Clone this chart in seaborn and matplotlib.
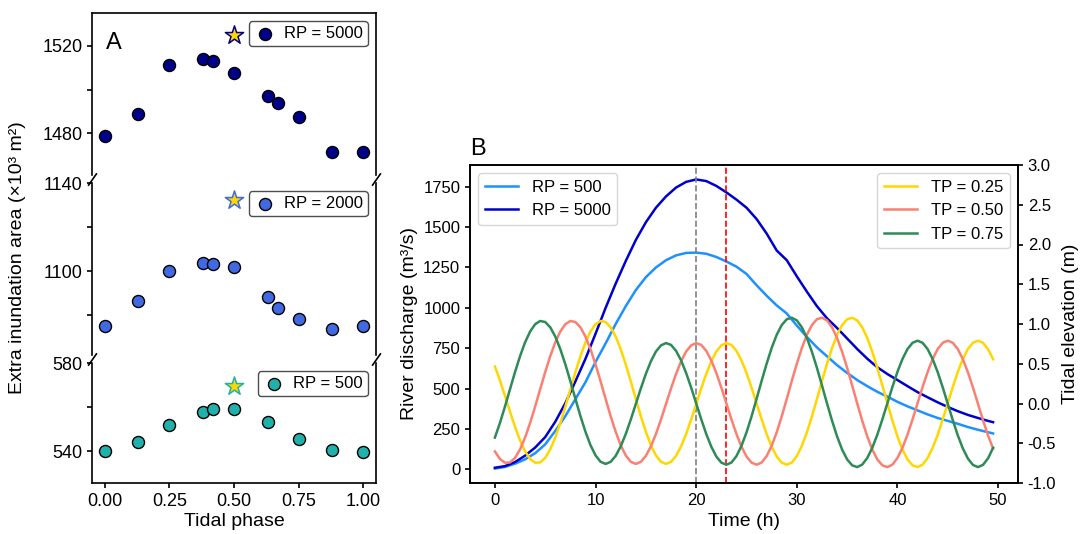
import matplotlib
matplotlib.use('Agg')
import matplotlib.pyplot as plt
import seaborn as sns
import numpy as np

plt.rcParams['font.family'] = ['Liberation Sans', 'DejaVu Sans']
plt.rcParams['axes.unicode_minus'] = False
plt.rcParams['axes.linewidth'] = 1.2
plt.rcParams['xtick.major.width'] = 1.2
plt.rcParams['ytick.major.width'] = 1.2
plt.rcParams['ytick.minor.width'] = 1.2
plt.rcParams['ytick.minor.size'] = 3.5

# ---- Panel A data: extra inundation area vs tidal phase ----
phase = [0.0, 0.13, 0.25, 0.38, 0.42, 0.5, 0.63, 0.67, 0.75, 0.88, 1.0]
area_rp5000 = [1479.0, 1489.0, 1511.3, 1514.1, 1512.9, 1507.8, 1497.3, 1494.0, 1487.5, 1471.7, 1471.4]
area_rp2000 = [1075.1, 1086.7, 1100.0, 1103.9, 1103.2, 1101.8, 1088.4, 1083.2, 1078.4, 1073.9, 1075.1]
phase_rp500 = [0.0, 0.13, 0.25, 0.38, 0.42, 0.5, 0.63, 0.75, 0.88, 1.0]
area_rp500 = [540.0, 544.1, 551.9, 557.6, 559.2, 558.9, 553.0, 545.5, 540.6, 539.7]
star_phase = 0.5
star_area = {'RP = 5000': 1524.8, 'RP = 2000': 1132.2, 'RP = 500': 569.7}

# ---- Panel B data: hourly river discharge ----
hours = list(range(50)) + [49.5]
q_rp500 = [5, 15, 35, 62, 100, 155, 238, 330, 435, 540,
           665, 780, 900, 1010, 1110, 1190, 1250, 1295, 1325, 1340,
           1342, 1335, 1315, 1287, 1255, 1210, 1140, 1075, 1015, 965,
           890, 820, 755, 700, 645, 597, 553, 515, 480, 450,
           418, 390, 365, 340, 318, 300, 282, 262, 245, 230, 222]
q_rp5000 = [10, 20, 45, 85, 135, 200, 295, 410, 545, 685,
            840, 1000, 1150, 1290, 1420, 1530, 1620, 1690, 1745, 1780,
            1795, 1785, 1755, 1715, 1670, 1620, 1550, 1460, 1355, 1295,
            1195, 1100, 1010, 935, 875, 810, 745, 685, 632, 590,
            553, 515, 478, 446, 415, 386, 360, 337, 318, 300, 292]

# ---- Panel B data: half-hourly tidal elevation ----
tide_hours = np.arange(0, 50, 0.5)
tide_tp025 = [0.465, 0.290, 0.097, -0.103, -0.294, -0.464, -0.603, -0.698, -0.745, -0.741,
              -0.684, -0.577, -0.428, -0.245, -0.038, 0.180, 0.396, 0.596, 0.770, 0.906,
              0.998, 1.038, 1.025, 0.958, 0.842, 0.683, 0.492, 0.279, 0.058, -0.159,
              -0.356, -0.525, -0.653, -0.733, -0.760, -0.734, -0.659, -0.539, -0.384, -0.202,
              -0.006, 0.190, 0.373, 0.531, 0.654, 0.731, 0.760, 0.737, 0.662, 0.542,
              0.384, 0.200, 0.001, -0.198, -0.384, -0.543, -0.667, -0.744, -0.770, -0.743,
              -0.662, -0.532, -0.363, -0.162, 0.058, 0.284, 0.501, 0.699, 0.864, 0.987,
              1.060, 1.079, 1.045, 0.958, 0.824, 0.650, 0.447, 0.226, 0.000, -0.217,
              -0.415, -0.580, -0.704, -0.778, -0.800, -0.768, -0.685, -0.556, -0.391, -0.199,
              0.005, 0.209, 0.399, 0.561, 0.686, 0.764, 0.790, 0.763, 0.683, 0.557]
tide_tp050 = [-0.603, -0.698, -0.745, -0.741, -0.684, -0.577, -0.428, -0.245, -0.038, 0.180,
              0.396, 0.596, 0.770, 0.906, 0.998, 1.038, 1.025, 0.958, 0.842, 0.683,
              0.492, 0.279, 0.058, -0.159, -0.356, -0.525, -0.653, -0.733, -0.760, -0.734,
              -0.659, -0.539, -0.384, -0.202, -0.006, 0.190, 0.373, 0.531, 0.654, 0.731,
              0.760, 0.737, 0.662, 0.542, 0.384, 0.200, 0.001, -0.198, -0.384, -0.543,
              -0.667, -0.744, -0.770, -0.743, -0.662, -0.532, -0.363, -0.162, 0.058, 0.284,
              0.501, 0.699, 0.864, 0.987, 1.060, 1.079, 1.045, 0.958, 0.824, 0.650,
              0.447, 0.226, 0.000, -0.217, -0.415, -0.580, -0.704, -0.778, -0.800, -0.768,
              -0.685, -0.556, -0.391, -0.199, 0.005, 0.209, 0.399, 0.561, 0.686, 0.764,
              0.790, 0.763, 0.683, 0.557, 0.393, 0.201, -0.005, -0.211, -0.403, -0.567]
tide_tp075 = [-0.428, -0.245, -0.038, 0.180, 0.396, 0.596, 0.770, 0.906, 0.998, 1.038,
              1.025, 0.958, 0.842, 0.683, 0.492, 0.279, 0.058, -0.159, -0.356, -0.525,
              -0.653, -0.733, -0.760, -0.734, -0.659, -0.539, -0.384, -0.202, -0.006, 0.190,
              0.373, 0.531, 0.654, 0.731, 0.760, 0.737, 0.662, 0.542, 0.384, 0.200,
              0.001, -0.198, -0.384, -0.543, -0.667, -0.744, -0.770, -0.743, -0.662, -0.532,
              -0.363, -0.162, 0.058, 0.284, 0.501, 0.699, 0.864, 0.987, 1.060, 1.079,
              1.045, 0.958, 0.824, 0.650, 0.447, 0.226, 0.000, -0.217, -0.415, -0.580,
              -0.704, -0.778, -0.800, -0.768, -0.685, -0.556, -0.391, -0.199, 0.005, 0.209,
              0.399, 0.561, 0.686, 0.764, 0.790, 0.763, 0.683, 0.557, 0.393, 0.201,
              -0.005, -0.211, -0.403, -0.567, -0.693, -0.773, -0.800, -0.772, -0.689, -0.557]

fig = plt.figure(figsize=(10.83, 5.34), dpi=100)
W, H = 1083, 534

def px_axes(left, top, right, bottom):
    return fig.add_axes([left / W, 1 - bottom / H, (right - left) / W, (bottom - top) / H])

# ---- Panel A: broken y axis made of three stacked axes ----
ax_top = px_axes(92, 13, 376, 175)
ax_mid = px_axes(92, 183, 376, 355)
ax_bot = px_axes(92, 363, 376, 483)

panels = [
    (ax_top, phase, area_rp5000, 'darkblue', 'RP = 5000', (1461, 1535), [1480, 1520], [1500]),
    (ax_mid, phase, area_rp2000, 'royalblue', 'RP = 2000', (1062, 1140), [1100, 1140], [1080, 1120]),
    (ax_bot, phase_rp500, area_rp500, 'lightseagreen', 'RP = 500', (525.5, 580), [540, 580], [560]),
]
for ax, xs, ys, col, lab, ylim, major, minor in panels:
    sns.scatterplot(x=xs, y=ys, ax=ax, color=col, edgecolor='black', linewidth=1,
                    s=75, label=lab, zorder=3, clip_on=False)
    sns.scatterplot(x=[star_phase], y=[star_area[lab]], ax=ax, marker='*', color='gold',
                    edgecolor=col, linewidth=1.1, s=190, zorder=3)
    ax.set_xlim(-0.05, 1.05)
    ax.set_ylim(*ylim)
    ax.set_yticks(major)
    ax.set_yticks(minor, minor=True)
    ax.tick_params(axis='both', labelsize=13)
    leg = ax.legend(loc='upper right', fontsize=12, handlelength=1.3, handletextpad=0.5,
                    framealpha=1, edgecolor='0.3', borderpad=0.3)
    leg.get_frame().set_linewidth(1.0)

ax_top.spines['bottom'].set_visible(False)
ax_mid.spines['top'].set_visible(False)
ax_mid.spines['bottom'].set_visible(False)
ax_bot.spines['top'].set_visible(False)
for ax in (ax_top, ax_mid):
    ax.tick_params(axis='x', bottom=False, labelbottom=False)
ax_bot.set_xticks([0.0, 0.25, 0.5, 0.75, 1.0])
ax_bot.set_xticklabels(['0.00', '0.25', '0.50', '0.75', '1.00'])
ax_bot.set_xlabel('Tidal phase', fontsize=14, labelpad=2)

# break marks, one in each gap
mark = dict(marker=[(-0.7, -1), (0.7, 1)], markersize=9, linestyle='none',
            color='k', mec='k', mew=1.2, clip_on=False)
for ax, h in ((ax_mid, 172), (ax_bot, 120)):
    yc = 1 + 4 / h
    ax.plot([0, 1], [yc, yc], transform=ax.transAxes, **mark)

ax_top.text(0.05, 0.78, 'A', transform=ax_top.transAxes, fontsize=17, va='baseline')
fig.text(18 / W, 1 - 258 / H, 'Extra inundation area (×10³ m²)', rotation=90,
         ha='center', va='center', fontsize=14)

# ---- Panel B ----
axb = px_axes(470, 165, 1018, 483)
sns.lineplot(x=hours, y=q_rp500, ax=axb, color='dodgerblue', linewidth=1.8, label='RP = 500')
sns.lineplot(x=hours, y=q_rp5000, ax=axb, color='mediumblue', linewidth=1.8, label='RP = 5000')
axb.axvline(20, color='gray', linestyle='--', linewidth=1.2)
axb.axvline(23, color='red', linestyle='--', linewidth=1.2)
axb.set_xlabel('Time (h)', fontsize=14)
axb.set_ylabel('River discharge (m³/s)', fontsize=14)
axb.tick_params(labelsize=12)
axb.legend(loc='upper left', fontsize=12)
axb.set_title('B', loc='left', fontsize=17, pad=7)

axt = axb.twinx()
sns.lineplot(x=tide_hours, y=tide_tp025, ax=axt, color='gold', linewidth=1.8, label='TP = 0.25')
sns.lineplot(x=tide_hours, y=tide_tp050, ax=axt, color='salmon', linewidth=1.8, label='TP = 0.50')
sns.lineplot(x=tide_hours, y=tide_tp075, ax=axt, color='seagreen', linewidth=1.8, label='TP = 0.75')
axt.set_ylim(-1, 3)
axt.set_ylabel('Tidal elevation (m)', fontsize=14)
axt.tick_params(labelsize=12)
axt.legend(loc='upper right', fontsize=12)

fig.savefig('out.png', dpi=100)
